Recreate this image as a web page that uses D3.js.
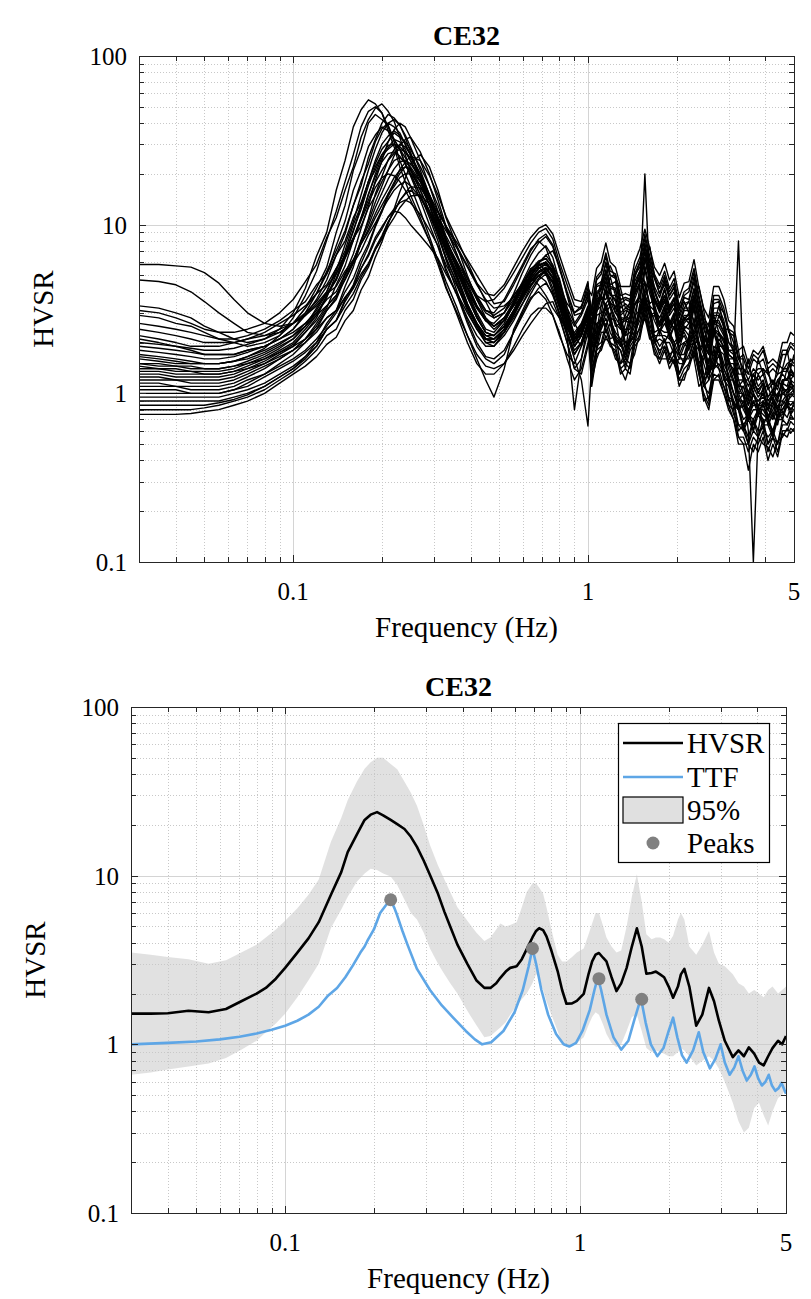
<!DOCTYPE html>
<html><head><meta charset="utf-8">
<script src="https://cdn.jsdelivr.net/npm/d3@7"></script>
</head><body>
<svg id="chart" width="811" height="1299"></svg>
<script>
document.body.style.margin = "0";
const FONT = '"Liberation Serif", serif';
const stationName = "CE32";
const xAxisTitle = "Frequency (Hz)";
const yAxisTitle = "HVSR";
const xTickValues = [0.1, 1, 5];
const xTickLabels = ["0.1", "1", "5"];
const yTickValues = [0.1, 1, 10, 100];
const yTickLabels = ["0.1", "1", "10", "100"];
const legendLabels = ["HVSR", "TTF", "95%", "Peaks"];

// ---- top panel: individual HVSR records ----
const freqTop = [0.03,0.035,0.04,0.045,0.05,0.056,0.063,0.07,0.08,0.09,
  0.1,0.11,0.12,0.13,0.14,0.15,0.16,0.17,0.18,0.19,0.2,0.21,0.22,0.23,0.24,0.25,
  0.27,0.29,0.31,0.33,0.36,0.39,0.42,0.45,0.48,0.52,0.56,
  0.6,0.64,0.68,0.72,0.76,0.8,0.85,0.9,0.95,1.0,
  1.03,1.07,1.11,1.15,1.19,1.24,1.29,1.34,1.39,1.44,1.5,1.56,1.62,1.68,1.75,1.82,1.89,1.96,2.04,2.12,
  2.2,2.29,2.38,2.47,2.57,2.67,2.78,2.89,3.0,3.12,3.24,3.37,3.5,3.64,3.78,3.93,4.08,4.24,4.4,4.57,4.74,4.87,5.0];

const records = [
[5.8,5.8,5.7,5.6,5.2,4.5,3.6,3.0,2.6,2.5, 2.6,2.9,3.4,4.0,5.5,7.0,10,13,18,21,26,28,30,29,27,24, 19,15,11,8,6,4.6,3.6,3.0,2.8,3.0,3.6, 4.6,5.8,6.8,7.5,6.4,4.6,3.2,2.6,3.0,3.8,
 1.8,2.9,3.0,4.1,3.2,2.5,2.6,1.8,2.7,2.6,4.3,4.5,3.3,3.1,2.2,3.2,2.3,2.7,1.8,2.4,2.2,3.2,2.0,1.7,1.3,2.3,1.9,1.9,1.2,1.4,0.9,1.0,0.75,1.0,0.8,1.1,0.7,0.9,0.7,1.1,0.9,1.2,1.0],
[4.7,4.6,4.4,4.0,3.5,3.0,2.6,2.3,2.2,2.3, 2.6,3.2,4.2,5.6,9,13,21,28,40,45,42,39,32,28,23,20, 15,11,8,5.5,3.8,2.6,1.9,1.6,1.5,1.7,2.3, 3.0,3.7,4.0,3.6,2.9,2.2,1.7,1.5,1.9,2.4,
 1.7,2.0,2.8,2.5,3.0,2.0,2.0,1.6,2.1,2.1,3.3,3.5,3.2,2.0,2.4,2.0,2.3,1.8,1.7,1.5,2.2,2.0,2.0,1.1,1.4,1.4,1.9,1.2,1.2,0.8,0.9,0.6,0.8,0.6,0.85,0.65,0.75,0.55,0.8,0.7,0.95,0.75,0.9],
[3.3,3.2,3.0,2.8,2.5,2.3,2.1,2.0,2.1,2.4, 3.0,4.2,6.5,9,16,24,38,48,55,52,46,36,29,22,18,15, 11,8,5.8,4.2,3.0,2.2,1.7,1.45,1.4,1.5,1.8, 2.2,2.6,3.0,3.4,3.5,2.8,2.0,1.4,1.3,1.9,
 2.2,2.3,3.4,4.0,4.9,3.8,3.6,2.7,2.6,3.4,3.5,5.3,6.2,4.1,3.3,3.8,3.1,3.6,2.5,2.8,2.6,3.6,3.4,2.6,1.8,2.2,2.9,2.6,2.0,1.8,1.5,1.2,1.2,1.0,1.3,1.1,1.1,0.9,1.2,1.1,1.4,1.2,1.3],
[3.1,3.0,2.8,2.6,2.4,2.3,2.3,2.4,2.6,3.0, 3.6,4.6,5.8,8.4,11,16,22,33,42,49,52,47,41,33,26,21, 16,12,9.5,7.5,5.6,4.5,3.8,3.5,3.6,4.2,5.2, 6.4,7.8,9.0,9.5,8.2,6.0,4.4,3.3,3.2,4.5,
 3.0,4.4,4.6,6.0,5.0,4.8,3.4,3.6,3.5,5.0,5.6,7.8,5.6,4.8,3.9,4.8,3.8,4.3,2.9,3.7,3.6,4.9,3.3,2.6,2.2,3.4,3.5,2.4,2.4,1.7,1.8,1.2,1.6,1.1,1.6,1.3,1.4,1.0,1.5,1.4,1.8,1.4,1.7],
[2.9,2.8,2.6,2.5,2.3,2.1,2.0,1.9,2.0,2.2, 2.6,3.2,3.9,5.3,7,9.2,13,18,23,31,37,40,38,35,30,26, 20,15,11,7.8,5.4,3.8,2.8,2.3,2.2,2.5,3.1, 3.9,4.9,5.9,6.6,5.8,4.2,3.0,2.2,2.5,3.2,
 1.3,1.9,2.0,2.6,2.1,2.2,1.5,1.6,1.5,2.2,2.4,3.6,2.4,2.1,1.7,2.1,1.6,1.9,1.3,1.6,1.6,2.1,1.4,1.2,0.9,1.5,1.4,1.3,0.9,0.9,0.6,0.65,0.5,0.7,0.55,0.7,0.5,0.6,0.5,0.7,0.65,0.75,0.7],
[2.6,2.5,2.4,2.3,2.2,2.1,2.1,2.2,2.4,2.7, 3.1,3.5,4.4,5.1,6.6,8.0,11,13.5,18,23,28,31,35,33,31,28, 22,17,13,9.5,6.6,4.8,3.7,3.1,3.0,3.6,4.6, 5.8,7.2,8.0,7.3,5.6,4.0,3.0,2.5,2.9,3.6,
 2.9,3.6,4.6,3.9,3.4,2.6,2.4,2.9,3.5,4.8,6.0,4.5,3.4,3.6,3.0,3.5,2.7,2.4,2.6,3.2,3.5,2.6,1.8,2.0,2.6,2.9,2.3,1.8,1.6,1.3,1.1,1.1,0.9,1.2,1.0,1.0,0.85,1.0,1.2,1.3,1.2,1.4,1.3],
[2.4,2.3,2.2,2.1,2.0,2.0,2.0,2.1,2.3,2.6, 2.9,3.3,3.9,4.4,5.5,6.5,8.3,9.8,12.6,14.8,18,21,24,25,23.5,22, 18,14,10.5,8,5.9,4.3,3.3,2.7,2.5,2.8,3.3, 3.8,4.4,5.0,5.4,5.5,4.5,3.0,2.1,2.2,2.9,
 1.6,2.6,2.7,3.4,2.8,2.7,1.9,2.0,2.0,2.9,3.1,4.6,3.2,2.7,2.3,2.8,2.1,2.5,1.7,2.0,2.1,2.8,1.9,1.5,1.2,1.9,1.8,1.7,1.2,1.2,0.8,0.9,0.7,0.9,0.75,0.9,0.65,0.75,0.65,0.9,0.85,1.0,0.95],
[2.2,2.1,2.0,1.9,1.9,1.9,2.0,2.1,2.2,2.4, 2.6,2.9,3.3,3.9,4.3,5.3,6.2,7.7,9.1,11,13,15.2,16.8,19,20,20, 17,14,11,8.6,6.4,4.8,3.8,3.1,2.9,3.2,3.8, 4.5,5.2,5.8,6.0,5.3,4.3,3.4,3.0,3.3,4.0,
 2.6,4.3,4.4,5.9,4.4,4.6,3.2,3.4,3.2,4.6,5.3,7.4,5.4,4.3,3.7,4.6,3.6,4.0,2.8,3.4,3.5,4.6,3.2,2.4,2.0,3.2,3.2,2.7,2.0,1.9,1.4,1.4,1.2,1.4,1.3,1.4,1.1,1.2,1.1,1.4,1.4,1.6,1.5],
[2.1,2.0,1.9,1.8,1.7,1.7,1.7,1.8,1.9,2.1, 2.4,2.9,3.6,4.7,6.6,8.8,13,17,25,32,40,45,43,39,33,27, 19,13,9,6.2,4.0,2.7,2.0,1.65,1.6,1.8,2.3, 2.9,3.6,4.2,4.5,3.9,2.9,2.0,1.4,1.6,2.3,
 1.1,1.7,1.8,2.2,1.9,1.8,1.3,1.4,1.3,1.9,2.1,3.0,2.2,1.8,1.5,1.8,1.4,1.6,1.1,1.3,1.4,1.8,1.3,0.95,0.8,1.2,1.2,1.0,0.8,0.7,0.5,0.5,0.35,0.5,0.45,0.55,0.4,0.5,0.42,0.58,0.55,0.62,0.6],
[2.0,1.95,1.9,1.85,1.8,1.8,1.85,1.95,2.1,2.3, 2.6,3.0,3.5,4.3,5.1,6.7,8.4,11,14,17.8,21,24,26.5,28,27,25, 20,15,11,8.2,5.7,4.0,3.0,2.4,2.3,2.7,3.5, 4.5,5.5,5.9,5.3,4.2,3.2,2.4,2.1,2.4,3.0,
 2.1,3.0,3.7,3.6,4.2,3.0,2.8,2.2,2.7,3.4,3.8,5.7,4.2,3.2,2.8,3.3,2.6,3.0,2.0,2.4,2.6,3.4,2.3,1.8,1.5,2.4,2.2,2.1,1.5,1.5,1.0,1.1,0.85,1.1,0.95,1.05,0.85,0.95,0.8,1.05,1.05,1.2,1.15],
[1.9,1.85,1.8,1.75,1.7,1.7,1.7,1.8,1.9,2.1, 2.4,3.0,3.9,5.1,7.5,10.5,16,21,29,34,38,36,32,28,23,19.5, 14,10,7.4,5.3,3.8,2.8,2.2,1.9,1.9,2.2,2.7, 3.4,4.3,5.0,5.3,4.6,3.3,2.3,1.7,2.0,2.7,
 3.3,4.9,5.3,6.8,5.3,5.1,3.8,3.9,3.8,5.4,6.4,8.8,6.5,5.1,4.4,5.3,4.2,4.8,3.3,4.0,4.2,5.5,3.8,2.8,2.5,3.8,3.8,3.2,2.4,2.3,1.6,1.7,1.4,1.7,1.6,1.8,1.4,1.5,1.4,1.8,1.8,2.0,1.9],
[1.8,1.75,1.7,1.65,1.6,1.6,1.65,1.75,1.9,2.1, 2.3,2.6,3.0,3.6,4.0,5.1,6.0,7.7,9.4,11.6,14,16.3,19,21,22,21, 18,15,12,9.8,7.4,5.7,4.5,3.9,3.8,4.4,5.6, 7.0,8.4,9.5,10,8.8,6.6,4.8,3.6,3.5,4.6,
 1.5,2.1,2.4,2.8,2.3,2.0,1.8,1.5,1.9,2.1,3.0,3.4,2.9,2.0,2.1,2.0,2.0,1.7,1.5,1.5,1.9,2.0,1.8,1.1,1.2,1.4,1.7,1.2,1.1,0.85,0.8,0.6,0.7,0.6,0.75,0.65,0.65,0.55,0.7,0.7,0.85,0.75,0.8],
[1.7,1.65,1.6,1.55,1.5,1.5,1.55,1.6,1.75,1.95, 2.2,2.6,3.1,3.9,4.7,6.3,8.1,11,15,20,25,28.5,32,31,28,24, 18,13,9.4,6.8,4.7,3.3,2.5,2.1,2.0,2.3,2.8, 3.4,4.1,4.8,5.4,5.7,4.8,3.2,2.2,1.9,2.6,
 2.2,2.2,2.9,3.4,3.7,3.2,2.9,2.2,2.3,2.6,3.0,4.1,5.0,3.4,2.6,3.0,2.5,2.8,2.2,2.3,2.0,2.6,2.9,2.1,1.4,1.7,2.3,2.0,1.6,1.3,1.1,0.95,0.8,0.9,0.9,0.95,0.85,0.75,0.9,0.9,1.0,1.05,1.1],
[1.65,1.6,1.55,1.5,1.5,1.5,1.55,1.65,1.85,2.2, 2.8,3.8,5.3,8.1,12,18,26,38,47,50,46,38,31,24,20,17, 12,8.5,6.1,4.3,2.9,2.0,1.5,1.3,1.3,1.5,1.9, 2.4,2.9,3.2,3.2,2.9,2.3,1.6,1.2,1.4,2.0,
 2.5,3.9,4.1,5.2,4.2,4.1,2.9,3.1,3.0,4.2,4.8,6.9,4.9,4.0,3.3,4.1,3.2,3.6,2.5,3.1,3.1,4.1,2.9,2.2,1.8,2.9,2.9,2.5,1.8,1.7,1.2,1.0,0.6,0.1,0.6,0.9,0.8,1.0,0.9,1.2,1.2,1.3,1.3],
[1.6,1.55,1.5,1.5,1.5,1.5,1.55,1.65,1.8,2.0, 2.2,2.5,2.9,3.3,3.8,4.7,5.9,7.0,8.7,10.2,12.2,14.1,16,17.3,18,17, 14.5,11.5,9,7,5.2,4.0,3.2,2.7,2.6,3.0,3.8, 4.5,4.8,4.4,3.8,3.2,2.8,2.4,2.3,2.6,3.0,
 1.6,2.3,2.7,3.2,2.7,2.3,2.1,1.7,2.2,2.3,3.4,3.8,3.3,2.3,2.4,2.3,2.3,2.0,1.7,1.7,2.1,2.3,2.0,1.3,1.3,1.6,1.9,1.4,1.2,1.0,0.85,0.7,0.75,0.7,0.8,0.75,0.7,0.6,0.75,0.8,0.9,0.85,0.9],
[1.5,1.5,1.45,1.45,1.4,1.4,1.45,1.55,1.7,1.9, 2.1,2.5,3.0,3.7,5.1,6.6,9.3,12.3,17,22,26,29.5,30,28,25,21.5, 16,12,8.8,6.4,4.4,3.1,2.4,2.0,2.0,2.4,3.1, 4.0,5.0,5.7,6.0,5.2,3.8,2.7,2.0,2.3,3.0,
 2.4,3.4,3.9,4.6,3.9,3.5,2.6,2.7,2.8,3.6,4.4,20,4.6,3.5,3.1,3.6,2.9,3.2,2.3,2.7,2.8,3.6,2.6,1.9,1.7,2.6,2.5,2.2,1.6,1.6,1.1,1.2,0.95,1.2,1.0,1.15,0.9,1.0,0.95,1.15,1.1,1.3,1.25],
[1.5,1.45,1.45,1.4,1.4,1.4,1.45,1.5,1.6,1.75, 1.9,2.1,2.4,2.8,3.1,3.7,4.2,5.1,5.9,7.1,8.2,9.7,11,12.6,13.8,14.8, 15,13.2,11,9.2,7.2,5.6,4.4,3.6,3.2,3.3,3.7, 4.2,5.0,5.9,6.6,7.0,5.7,3.8,2.6,2.2,2.9,
 1.2,1.8,1.9,2.4,2.0,1.9,1.4,1.5,1.4,2.0,2.2,3.2,2.3,1.9,1.6,1.9,1.5,1.7,1.2,1.4,1.5,1.9,1.3,1.0,0.85,1.3,1.25,1.1,0.85,0.8,0.55,0.55,0.45,0.55,0.5,0.6,0.45,0.55,0.45,0.6,0.6,0.68,0.65],
[1.45,1.4,1.4,1.35,1.35,1.35,1.4,1.5,1.65,1.85, 2.1,2.5,3.2,4.0,5.3,7.6,10.4,15,21,28,35,40,42,39,34,29, 21,15,10.5,7.4,5.0,3.4,2.6,2.2,2.1,2.4,3.0, 3.7,4.6,5.2,5.5,4.8,3.5,2.5,1.9,2.2,2.8,
 2.4,3.2,3.8,3.3,2.8,2.2,2.0,2.6,3.2,4.3,5.3,3.9,2.9,3.0,2.6,2.9,2.3,2.0,2.2,2.7,3.0,2.2,1.5,1.7,2.2,2.5,1.9,1.5,1.3,1.0,0.9,0.9,0.75,1.0,0.85,0.85,0.72,0.85,1.0,1.1,1.0,1.15,1.1],
[1.4,1.4,1.35,1.35,1.3,1.3,1.35,1.4,1.5,1.65, 1.8,2.0,2.3,2.8,3.1,4.0,4.8,6.3,7.7,9.9,12.1,15.2,17.8,21.2,23.4,25.5, 24,19.5,15,11.2,8.2,6.0,4.5,3.5,2.8,3.0,3.9, 5.2,6.6,7.8,8.5,7.4,5.5,3.9,2.9,3.0,3.9,
 3.1,4.7,5.1,6.5,5.0,5.0,3.6,3.7,3.6,5.1,6.0,8.3,6.1,4.9,4.2,5.0,4.0,4.5,3.1,3.8,4.0,5.2,3.6,2.7,2.3,3.6,3.6,3.0,2.3,2.2,1.6,1.6,1.3,1.6,1.5,1.6,1.3,1.4,1.3,1.7,1.7,1.9,1.8],
[1.35,1.35,1.3,1.3,1.3,1.3,1.35,1.45,1.6,1.8, 2.0,2.4,2.9,3.8,4.8,6.7,9.1,13,18,24,30,33.5,36,34,30,26, 19,14,10,7.1,4.8,3.3,2.5,2.0,1.9,2.3,3.0, 3.9,4.6,5.0,4.6,3.8,3.0,2.3,1.8,2.0,2.6,
 1.9,1.9,2.5,3.0,3.3,2.8,2.5,1.9,2.0,2.3,2.7,3.7,4.4,3.0,2.3,2.6,2.2,2.5,1.9,2.0,1.8,2.3,2.6,1.9,1.3,1.5,2.0,1.8,1.4,1.15,0.95,0.8,0.7,0.8,0.8,0.85,0.75,0.7,0.8,0.8,0.9,0.95,1.0],
[1.3,1.3,1.25,1.25,1.25,1.25,1.3,1.4,1.55,1.75, 1.95,2.3,2.7,3.3,3.8,5.0,6.1,8.0,9.9,12.6,15.4,18.6,21.4,23.6,24,23, 19,14.5,11,8.2,5.8,4.2,3.2,2.7,2.4,2.7,3.4, 4.3,5.3,6.0,6.3,5.5,4.0,2.8,2.1,2.4,3.1,
 2.3,3.6,3.8,4.9,3.8,3.8,2.7,2.8,2.8,3.9,4.5,6.4,4.6,3.7,3.1,3.8,3.0,3.4,2.4,2.9,2.9,3.8,2.7,2.0,1.7,2.7,2.7,2.3,1.7,1.6,8,1.3,1.0,1.3,1.1,1.2,0.95,1.05,0.95,1.2,1.2,1.35,1.3],
[1.25,1.25,1.2,1.2,1.2,1.2,1.25,1.35,1.5,1.7, 1.9,2.3,2.8,3.8,4.7,6.4,8.1,10.6,13.4,16.6,19,20,19.5,18,16,14, 10.5,8,6.2,4.6,3.2,2.2,1.6,1.2,0.95,1.4,2.4, 3.1,3.9,4.7,5.1,4.5,3.3,2.3,1.7,2.0,2.6,
 1.4,1.8,2.3,2.3,2.6,1.9,1.8,1.4,1.8,2.0,2.5,3.3,2.6,2.0,1.8,1.9,1.7,1.8,1.3,1.5,1.7,2.0,1.5,1.1,1.0,1.4,1.5,1.3,0.95,0.9,0.65,0.6,0.5,0.6,0.55,0.65,0.5,0.55,0.5,0.65,0.65,0.72,0.7],
[1.2,1.2,1.2,1.15,1.15,1.15,1.2,1.3,1.45,1.6, 1.8,2.1,2.5,3.1,3.6,4.8,6.0,8.1,10.4,13.6,16.9,21,25.6,29.4,32,33, 27,20,14,9.8,6.6,4.5,3.3,2.7,2.5,2.8,3.4, 4.2,5.1,5.7,6.0,5.3,3.9,2.8,2.1,2.5,3.1,
 2.0,3.1,3.3,4.4,3.4,3.3,2.4,2.4,2.4,3.3,3.8,5.4,3.9,3.2,2.6,3.3,2.5,2.9,2.0,2.5,2.4,3.3,2.3,1.8,1.5,2.4,2.3,2.1,1.5,1.4,1.0,1.0,0.85,1.0,0.9,1.0,0.8,0.9,0.8,1.0,1.05,1.15,1.1],
[1.15,1.15,1.1,1.1,1.1,1.1,1.15,1.25,1.4,1.6, 1.8,2.1,2.6,3.2,4.4,5.7,8.1,10.8,15.2,19.3,23.6,26.4,27,25.5,23,20, 15,11.5,8.5,6.3,4.5,3.2,2.5,2.1,2.0,2.3,2.9, 3.7,4.6,5.2,5.5,4.8,3.5,2.5,1.9,2.2,2.9,
 3.2,3.1,4.4,5.2,5.7,4.8,4.2,3.2,3.4,3.9,4.5,6.0,7.4,5.0,3.9,4.4,3.8,4.2,3.2,3.5,3.0,3.8,4.3,3.1,2.1,2.5,3.3,3.0,2.4,2.0,1.6,1.4,1.3,1.3,1.4,1.4,1.3,1.15,1.3,1.35,1.5,1.55,1.6],
[1.1,1.1,1.1,1.05,1.05,1.05,1.1,1.2,1.3,1.45, 1.6,1.8,2.1,2.5,3.0,3.7,4.3,5.5,6.5,8.1,9.4,11.1,12.4,13.5,14,13.5, 11.5,9.3,7.5,5.8,4.3,3.2,2.6,2.2,2.2,2.6,3.4, 4.4,5.3,5.6,5.1,4.0,3.0,2.2,1.6,1.2,0.64,
 1.5,2.2,2.5,3.0,2.6,2.1,2.0,1.6,2.0,2.2,3.2,3.6,3.1,2.2,2.2,2.2,2.1,1.9,1.6,1.6,2.0,2.2,1.9,1.2,1.3,1.5,1.8,1.3,1.15,0.9,0.8,0.65,0.72,0.65,0.78,0.7,0.68,0.58,0.72,0.75,0.85,0.8,0.85],
[1.05,1.05,1.05,1.0,1.0,1.0,1.05,1.15,1.3,1.5, 1.7,2.0,2.4,3.1,3.7,5.1,6.7,9.5,12.8,18.2,24,31,36.5,40,38,33, 24,17,12,8.3,5.6,3.9,2.9,2.3,2.2,2.5,3.1, 3.9,4.8,5.5,5.8,5.1,3.7,2.6,2.0,2.3,3.0,
 2.6,3.3,3.7,3.2,2.7,2.1,1.9,2.3,2.9,4.0,5.0,3.7,2.8,2.9,2.5,2.8,2.2,1.9,2.1,2.6,2.8,2.1,1.4,1.6,2.1,2.3,1.8,1.4,1.2,1.0,0.8,0.85,0.7,0.9,0.8,0.8,0.7,0.8,0.95,1.0,0.95,1.1,1.05],
[1.0,1.0,1.0,1.0,1.0,1.0,1.05,1.1,1.25,1.4, 1.55,1.75,2.0,2.4,2.7,3.3,3.9,4.9,5.8,7.3,8.6,10.4,11.9,13.9,15.4,16.8, 16.5,14,11.8,9.8,7.8,6.2,5.0,4.1,3.4,3.5,4.4, 5.6,7.0,8.2,8.8,7.6,5.6,4.0,3.0,3.2,4.2,
 3.8,5.5,6.0,7.8,6.0,5.6,4.3,4.3,4.3,6.0,7.2,9.4,7.3,5.6,5.0,5.9,4.7,5.3,3.7,4.5,4.6,6.2,4.2,3.2,2.8,4.3,4.3,3.6,2.7,2.5,1.8,1.9,1.5,1.8,1.7,1.9,1.5,1.6,1.5,2.0,2.0,2.3,2.2],
[0.95,0.95,0.95,0.95,0.95,0.95,1.0,1.05,1.15,1.3, 1.45,1.65,1.9,2.4,2.7,3.5,4.2,5.5,6.7,8.4,9.7,11.1,12,11.8,11,10, 8.6,7.4,6.3,5.1,3.9,3.0,2.4,2.1,2.1,2.4,2.9, 3.6,4.4,5.0,5.2,4.6,3.4,2.2,0.8,1.6,2.6,
 1.2,1.6,1.9,2.1,2.0,1.7,1.4,1.2,1.5,1.7,2.3,2.8,2.3,1.7,1.6,1.6,1.6,1.5,1.2,1.2,1.5,1.7,1.4,0.9,0.95,1.2,1.3,1.0,0.85,0.7,0.55,0.5,0.5,0.45,0.55,0.5,0.48,0.42,0.52,0.55,0.62,0.58,0.62],
[0.9,0.9,0.9,0.9,0.9,0.9,0.95,1.0,1.1,1.25, 1.4,1.6,1.9,2.4,2.7,3.6,4.4,5.9,7.4,9.7,11.9,14.7,17.4,20.1,22,21.5, 17,13,9.8,7.3,5.2,3.7,2.8,2.3,2.2,2.5,3.1, 3.9,4.8,5.5,5.9,5.2,3.8,2.7,2.0,2.4,3.1,
 2.4,3.5,3.8,4.9,3.9,3.6,2.8,2.8,3.0,3.8,4.6,6.3,4.7,3.7,3.2,3.8,3.1,3.4,2.4,2.8,2.9,3.7,2.7,2.0,1.7,2.7,2.6,2.3,1.7,1.6,1.2,1.2,0.95,1.15,1.05,1.15,0.95,1.05,0.95,1.2,1.2,1.35,1.3],
[0.85,0.85,0.85,0.85,0.85,0.88,0.92,0.98,1.1,1.25, 1.4,1.65,2.0,2.6,3.1,4.3,5.6,7.9,10.8,15.2,19.3,24.2,27.8,30,29,26, 19,14,10,7.2,4.9,3.4,2.6,2.1,2.1,2.4,3.0, 3.8,4.7,5.3,5.6,4.9,3.6,2.5,1.9,2.2,2.9,
 2.0,2.0,2.7,3.2,3.5,3.0,2.7,2.0,2.1,2.5,2.9,3.9,4.7,3.2,2.5,2.8,2.4,2.7,2.0,2.2,1.9,2.4,2.8,2.0,1.3,1.6,2.1,1.9,1.5,1.2,1.0,0.85,0.75,0.85,0.85,0.9,0.8,0.72,0.85,0.85,0.95,1.0,1.05],
[0.8,0.8,0.8,0.8,0.82,0.85,0.9,0.95,1.05,1.2, 1.35,1.55,1.8,2.2,2.4,3.1,3.6,4.7,5.6,7.1,8.4,10.3,11.9,13.9,15.2,16, 14.5,12,9.6,7.6,5.6,4.2,3.3,2.8,2.5,2.7,3.3, 4.1,5.0,5.7,6.0,5.3,3.9,2.8,2.1,2.5,3.2,
 2.6,4.0,4.2,5.4,4.3,4.2,3.0,3.2,3.1,4.3,5.0,7.0,5.1,4.1,3.4,4.2,3.3,3.7,2.6,3.2,3.2,4.2,3.0,2.2,1.9,3.0,3.0,2.5,1.8,1.8,1.3,1.3,1.1,1.3,1.2,1.3,1.05,1.15,1.05,1.35,1.35,1.5,1.45],
[0.75,0.75,0.75,0.76,0.78,0.8,0.85,0.9,1.0,1.15, 1.3,1.45,1.65,1.95,2.15,2.7,3.1,4.1,4.9,6.4,7.9,10.1,12.4,15.6,18.8,23, 26,22,16,11,7.4,5.0,3.6,2.8,2.5,2.8,3.5, 4.4,5.4,6.1,6.3,5.6,4.1,2.9,2.2,2.6,3.3,
 1.9,2.5,2.8,2.4,2.0,1.6,1.5,1.8,2.2,3.0,3.8,2.8,2.1,2.2,1.9,2.1,1.7,1.5,1.6,1.9,2.1,1.6,1.1,1.2,1.6,1.8,1.4,1.1,0.95,0.75,0.65,0.65,0.55,0.7,0.6,0.62,0.55,0.6,0.72,0.78,0.72,0.82,0.8]
];

// ---- bottom panel: mean HVSR, 95% band, TTF, peaks ----
const freqBottom = [0.03,0.035,0.04,0.047,0.055,0.063,0.071,0.08,0.086,0.093,
  0.1,0.11,0.12,0.13,0.143,0.155,0.163,0.175,0.186,0.195,
  0.205,0.215,0.228,0.24,0.254,0.267,0.28,0.295,0.31,0.33,
  0.347,0.363,0.384,0.415,0.445,0.474,0.497,0.52,0.537,0.56,
  0.58,0.61,0.635,0.66,0.69,0.71,0.727,0.75,0.77,0.8,
  0.84,0.87,0.9,0.94,0.976,1.03,1.07,1.1,1.13,1.16,
  1.2,1.23,1.28,1.33,1.38,1.44,1.5,1.56,1.62,1.68,
  1.75,1.81,1.87,1.93,2.0,2.07,2.15,2.2,2.26,2.35,
  2.48,2.6,2.74,2.85,2.96,3.1,3.3,3.45,3.6,3.74,
  3.9,4.05,4.2,4.35,4.5,4.7,4.85,5.0];
const meanHVSR = [1.52,1.52,1.53,1.58,1.55,1.62,1.8,2.0,2.16,2.45,
  2.84,3.5,4.25,5.3,7.7,10.5,13.8,17.5,21.4,23,
  23.8,22.8,21.4,20.2,18.9,17,14.8,12.3,10.1,7.8,
  6.1,5.0,3.9,3.0,2.4,2.16,2.16,2.3,2.48,2.7,
  2.84,2.9,3.2,3.67,4.3,4.7,4.88,4.75,4.37,3.6,
  2.72,2.1,1.74,1.75,1.81,1.99,2.62,3.1,3.4,3.48,
  3.25,3.1,2.5,2.07,2.3,2.84,3.8,4.88,3.8,2.62,
  2.65,2.7,2.6,2.5,2.2,1.89,2.2,2.6,2.8,2.2,
  1.29,1.5,2.16,1.8,1.38,1.05,0.84,0.92,0.85,0.96,
  0.88,0.78,0.75,0.85,0.95,1.05,1.0,1.12];
const band95Upper = [3.5,3.4,3.3,3.2,3.0,3.15,3.5,3.9,4.3,4.8,
  5.4,6.4,7.7,9.5,15.9,22,28,36,43,47,
  50,50,46,42.7,36,31,26,20,15.2,11.5,
  9.5,8.0,6.5,5.4,4.6,4.1,4.3,4.8,5.2,5.0,
  5.1,5.3,6.5,8.0,9.0,9.0,8.5,7.8,6.5,4.8,
  3.4,3.1,3.1,3.3,3.5,3.7,4.5,5.2,6.0,6.0,
  5.0,4.3,3.8,3.5,3.6,5.0,7.5,10.2,7.0,4.5,
  4.2,4.3,4.3,4.2,4.0,4.4,5.5,6.0,5.5,3.8,
  3.4,3.9,4.7,3.5,3.0,2.9,2.6,2.3,2.2,2.0,
  2.1,2.0,1.9,2.1,2.2,2.0,2.1,2.2];
const band95Lower = [0.66,0.68,0.71,0.74,0.77,0.83,0.93,1.05,1.18,1.33,
  1.52,1.9,2.4,3.0,4.9,6.3,7.5,9.2,10.3,11,
  10.8,10.3,9.9,8.8,7.2,6.0,5.5,4.6,3.7,3.0,
  2.6,2.3,2.0,1.58,1.3,1.1,1.12,1.2,1.26,1.35,
  1.5,1.7,1.85,2.0,2.3,2.6,2.5,2.1,1.8,1.5,
  1.2,1.02,0.96,0.98,1.02,1.1,1.3,1.45,1.55,1.5,
  1.3,1.15,1.02,0.96,1.0,1.2,1.45,1.5,1.2,0.95,
  0.9,0.92,0.9,0.88,0.85,0.85,0.9,0.95,0.92,0.85,
  0.75,0.8,0.85,0.8,0.72,0.6,0.45,0.35,0.3,0.32,
  0.42,0.45,0.38,0.33,0.4,0.48,0.5,0.55];
const freqTTF = [0.03,0.04,0.05,0.06,0.07,0.08,0.09,0.1,0.11,0.12,
  0.13,0.14,0.15,0.16,0.17,0.18,0.186,0.19,0.2,0.21,
  0.22,0.228,0.235,0.24,0.25,0.26,0.28,0.31,0.34,0.37,
  0.41,0.44,0.466,0.5,0.55,0.6,0.64,0.67,0.69,0.71,
  0.74,0.78,0.83,0.88,0.92,0.97,1.02,1.08,1.12,1.15,
  1.18,1.23,1.3,1.38,1.46,1.53,1.61,1.67,1.74,1.83,
  1.92,2.0,2.07,2.14,2.22,2.3,2.42,2.53,2.62,2.76,
  2.88,3.0,3.1,3.22,3.34,3.45,3.56,3.68,3.8,3.91,
  4.02,4.14,4.26,4.37,4.48,4.6,4.72,4.83,5.0];
const ttfValues = [1.0,1.02,1.04,1.07,1.11,1.16,1.22,1.29,1.38,1.5,
  1.67,1.95,2.16,2.5,2.95,3.5,3.8,4.1,4.8,6.0,
  6.7,7.2,6.4,5.8,4.7,3.9,2.8,2.1,1.7,1.45,
  1.2,1.07,1.0,1.03,1.2,1.55,2.1,2.9,3.7,3.0,
  2.1,1.5,1.15,1.0,0.97,1.02,1.2,1.6,2.1,2.5,
  2.1,1.5,1.1,0.93,1.05,1.4,1.88,1.35,1.0,0.85,
  0.95,1.2,1.44,1.1,0.86,0.78,0.92,1.18,0.9,0.72,
  0.82,1.0,0.78,0.66,0.73,0.85,0.7,0.61,0.66,0.74,
  0.63,0.57,0.6,0.66,0.57,0.53,0.55,0.59,0.51];
const peakFreq = [0.228, 0.69, 1.16, 1.62];
const peakAmp = [7.2, 3.7, 2.45, 1.85];

// ---- layout ----
const W = 655, H = 506;
const svg = d3.select("#chart");
const x = d3.scaleLog().domain([0.03, 5]).range([0, W]);
const y = d3.scaleLog().domain([0.1, 100]).range([H, 0]);
const isMajor = v => Math.abs(Math.log10(v) - Math.round(Math.log10(v))) < 1e-6;
const TTF_BLUE = "#5ea6e6";

function addText(px, py, size, str, anchor, extra) {
  const t = svg.append("text").attr("x", px).attr("y", py).attr("font-size", size)
    .style("font-family", FONT);
  if (anchor && anchor !== "start") t.attr("text-anchor", anchor);
  if (extra) extra(t);
  t.text(str);
  return t;
}

function makePanel(left, top, id) {
  const g = svg.append("g").attr("transform", `translate(${left},${top})`);
  g.append("clipPath").attr("id", id).append("rect").attr("width", W).attr("height", H);
  const xt = x.ticks().filter(v => v > 0.03 + 1e-9 && v < 5 - 1e-9);
  const yt = y.ticks().filter(v => v > 0.1 + 1e-9 && v < 100 - 1e-9);
  const grid = g.append("g").attr("shape-rendering", "crispEdges");
  grid.selectAll(".gx").data(xt).join("line")
    .attr("x1", d => Math.round(x(d)) + 0.5).attr("x2", d => Math.round(x(d)) + 0.5)
    .attr("y1", 0).attr("y2", H)
    .attr("stroke", d => isMajor(d) ? "#d4d4d4" : "#c8c8c8")
    .attr("stroke-dasharray", d => isMajor(d) ? null : "1,2");
  grid.selectAll(".gy").data(yt).join("line")
    .attr("y1", d => Math.round(y(d)) + 0.5).attr("y2", d => Math.round(y(d)) + 0.5)
    .attr("x1", 0).attr("x2", W)
    .attr("stroke", d => isMajor(d) ? "#d4d4d4" : "#c8c8c8")
    .attr("stroke-dasharray", d => isMajor(d) ? null : "1,2");
  const plot = g.append("g").attr("clip-path", `url(#${id})`);
  return { g, plot, xt, yt, left, top };
}

function finishPanel(p) {
  const g = p.g;
  const ax = g.append("g").attr("shape-rendering", "crispEdges").attr("stroke", "#262626");
  const ticks = [];
  p.xt.forEach(v => {
    const len = isMajor(v) ? 7 : 5;
    const px = Math.round(x(v)) + 0.5;
    ticks.push([px, H, px, H - len], [px, 0, px, len]);
  });
  p.yt.forEach(v => {
    const len = isMajor(v) ? 7 : 5;
    const py = Math.round(y(v)) + 0.5;
    ticks.push([0, py, len, py], [W, py, W - len, py]);
  });
  ax.selectAll("line").data(ticks).join("line")
    .attr("x1", d => d[0]).attr("y1", d => d[1]).attr("x2", d => d[2]).attr("y2", d => d[3])
    .attr("stroke-width", 1);
  ax.append("rect").attr("x", 0.5).attr("y", 0.5).attr("width", W).attr("height", H)
    .attr("fill", "none").attr("stroke-width", 1.3);
  const L = p.left, T = p.top;
  xTickValues.forEach((v, i) => addText(L + x(v), T + H + 38, 25, xTickLabels[i], "middle"));
  yTickValues.forEach((v, i) => addText(L - 12, T + y(v) + 9, 25, yTickLabels[i], "end"));
  addText(L + W / 2, T + H + 75, 29, xAxisTitle, "middle");
  addText(0, 0, 29, yAxisTitle, "middle", t => t.attr("x", null).attr("y", null)
    .attr("transform", `translate(${L - 86},${T + H / 2}) rotate(-90)`));
  addText(L + W / 2, T - 11, 28, stationName, "middle", t => t.attr("font-weight", "bold"));
}

// ---- top panel ----
const p1 = makePanel(139, 56, "clipTop");
const lineTop = d3.line().x(d => x(d[0])).y(d => y(d[1]));
p1.plot.selectAll(".rec").data(records).join("path")
  .attr("d", r => lineTop(r.map((v, i) => [freqTop[i], v])))
  .attr("fill", "none").attr("stroke", "#000").attr("stroke-width", 1.4)
  .attr("stroke-linejoin", "round");
finishPanel(p1);

// ---- bottom panel ----
const p2 = makePanel(131, 707, "clipBottom");
const bandData = freqBottom.map((f, i) => [f, band95Lower[i], band95Upper[i]]);
p2.plot.append("path")
  .attr("d", d3.area().x(d => x(d[0])).y0(d => y(d[1])).y1(d => y(d[2]))(bandData))
  .attr("fill", "#c9c9c9").attr("fill-opacity", 0.55);
p2.plot.append("path")
  .attr("d", d3.line().x(d => x(d[0])).y(d => y(d[1]))(freqTTF.map((f, i) => [f, ttfValues[i]])))
  .attr("fill", "none").attr("stroke", TTF_BLUE).attr("stroke-width", 2.6).attr("stroke-linejoin", "round");
p2.plot.append("path")
  .attr("d", d3.line().x(d => x(d[0])).y(d => y(d[1]))(freqBottom.map((f, i) => [f, meanHVSR[i]])))
  .attr("fill", "none").attr("stroke", "#000").attr("stroke-width", 2.6).attr("stroke-linejoin", "round");
p2.plot.selectAll(".pk").data(peakFreq).join("circle")
  .attr("cx", d => x(d)).attr("cy", (d, i) => y(peakAmp[i])).attr("r", 6.5).attr("fill", "#808080");
finishPanel(p2);

// legend (bottom panel, top-right)
const LX = 618, LY = 723;
const lg = svg.append("g").attr("transform", `translate(${LX},${LY})`);
lg.append("rect").attr("x", 0.5).attr("y", 0.5).attr("width", 151).attr("height", 139)
  .attr("fill", "#fff").attr("stroke", "#000").attr("stroke-width", 1.2);
const rowY = [20, 54, 87, 120];
lg.append("line").attr("x1", 5).attr("x2", 65).attr("y1", rowY[0]).attr("y2", rowY[0])
  .attr("stroke", "#000").attr("stroke-width", 2.6);
lg.append("line").attr("x1", 5).attr("x2", 65).attr("y1", rowY[1]).attr("y2", rowY[1])
  .attr("stroke", TTF_BLUE).attr("stroke-width", 2.6);
lg.append("rect").attr("x", 5).attr("y", rowY[2] - 13).attr("width", 60).attr("height", 26)
  .attr("fill", "#e0e0e0").attr("stroke", "#000").attr("stroke-width", 1.2);
lg.append("circle").attr("cx", 35).attr("cy", rowY[3]).attr("r", 6.5).attr("fill", "#808080");
legendLabels.forEach((t, i) => addText(LX + 69, LY + rowY[i] + 10, 29, t, "start"));
</script>
</body></html>
